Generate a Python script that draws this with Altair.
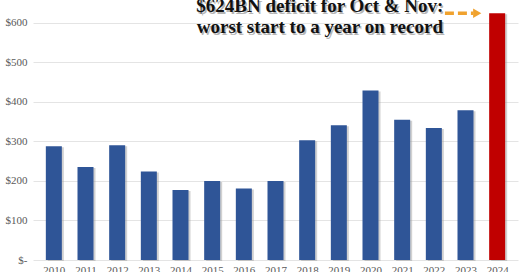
import altair as alt
import pandas as pd

# Federal deficit for October + November of each fiscal year, $ billions
years = list(range(2010, 2025))
deficits = [288, 235, 290, 224, 177, 200, 181, 200, 303, 341, 429, 355, 334, 379, 624]
colors = ["#2F5597"] * 14 + ["#C00000"]

headline = ["$624BN deficit for Oct & Nov:", "worst start to a year on record"]
headline_y = [626, 573]
headline_x = 2018.4

arrow_start, arrow_end, arrow_level = 2022.35, 2023.25, 624

bars = pd.DataFrame({"year": years, "deficit": deficits, "color": colors})
notes = pd.DataFrame({"line": headline, "x": headline_x, "y": headline_y})
arrow = pd.DataFrame({"x": [arrow_start], "x2": [arrow_end], "y": [arrow_level]})
tip = pd.DataFrame({"x": [arrow_end + 0.12], "y": [arrow_level]})

xscale = alt.Scale(domain=[2009.5, 2024.5], nice=False, zero=False)
yscale = alt.Scale(domain=[0, 650], nice=False)

x_axis = alt.Axis(values=years, format="d", title=None, grid=False, domain=False,
                  ticks=False, labelFont="Liberation Serif", labelFontSize=11,
                  labelColor="#595959", labelPadding=4, labelOverlap=False,
                  labelFlush=False)
y_axis = alt.Axis(values=[0, 100, 200, 300, 400, 500, 600], title=None,
                  domain=False, ticks=False, labelPadding=6,
                  labelExpr="datum.value == 0 ? '$-' : '$' + datum.value",
                  labelFont="Liberation Serif", labelFontSize=11, labelColor="#595959",
                  gridColor="#E4E4E4", gridWidth=1, labelOverlap=False)


def xenc(field):
    return alt.X(field, scale=xscale, axis=x_axis)


def yenc(field):
    return alt.Y(field, scale=yscale, axis=y_axis)


base = alt.Chart(bars)

shadow = base.mark_bar(width=16, color="#9A9A9A", opacity=0.45, xOffset=2, yOffset=1).encode(
    x=xenc("year:Q"), y=yenc("deficit:Q"),
)

columns = base.mark_bar(width=16).encode(
    x=xenc("year:Q"), y=yenc("deficit:Q"),
    color=alt.Color("color:N", scale=None),
)

text_shadow = alt.Chart(notes).mark_text(
    font="Liberation Serif", fontWeight="bold", fontSize=19, color="#7A7A7A",
    opacity=0.55, dx=1.5, dy=1.5, baseline="alphabetic", align="center",
).encode(x=xenc("x:Q"), y=yenc("y:Q"), text="line:N")

text = alt.Chart(notes).mark_text(
    font="Liberation Serif", fontWeight="bold", fontSize=19, color="#111111",
    baseline="alphabetic", align="center",
).encode(x=xenc("x:Q"), y=yenc("y:Q"), text="line:N")

dash = alt.Chart(arrow).mark_rule(color="#F0A22E", strokeWidth=3.5, strokeDash=[9, 4]).encode(
    x=xenc("x:Q"), x2="x2:Q", y=yenc("y:Q"),
)

head = alt.Chart(tip).mark_point(shape="triangle-right", filled=True, size=90,
                                  color="#F0A22E", opacity=1).encode(
    x=xenc("x:Q"), y=yenc("y:Q"),
)

chart = alt.layer(shadow, columns, text_shadow, text, dash, head).properties(
    width=485, height=257,
    padding={"left": 33, "top": 3, "right": 2, "bottom": 12},
    autosize=alt.AutoSizeParams(type="none"),
    background="white",
).configure_view(stroke=None)

chart.save("out.html", embed_options={"renderer": "svg", "actions": False})
